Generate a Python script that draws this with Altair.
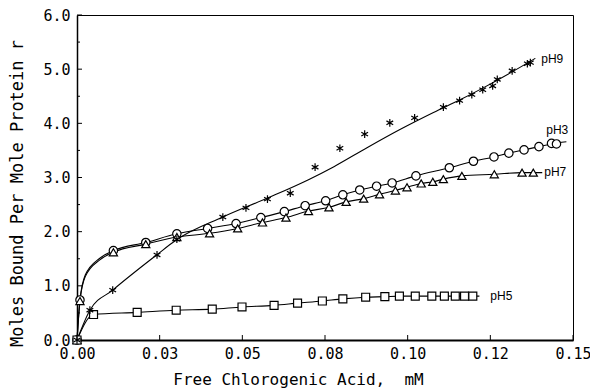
import altair as alt
import pandas as pd

# ---------------- data ----------------
ph3_x = [0, 0.0009, 0.0110, 0.0208, 0.0302, 0.0395, 0.0481, 0.0556, 0.0627, 0.0690,
         0.0752, 0.0804, 0.0855, 0.0906, 0.0953, 0.1025, 0.1126, 0.1199, 0.1261,
         0.1306, 0.1352, 0.1397, 0.1435, 0.1450]
ph3_y = [0, 0.74, 1.65, 1.80, 1.96, 2.06, 2.15, 2.26, 2.37, 2.48,
         2.57, 2.68, 2.77, 2.84, 2.90, 3.03, 3.18, 3.30, 3.38,
         3.45, 3.51, 3.57, 3.63, 3.62]

ph7_x = [0, 0.0009, 0.0110, 0.0208, 0.0302, 0.0401, 0.0486, 0.0561, 0.0632, 0.0700,
         0.0762, 0.0814, 0.0867, 0.0915, 0.0963, 0.0998, 0.1041, 0.1076, 0.1108,
         0.1164, 0.1262, 0.1346, 0.1380]
ph7_y = [0, 0.72, 1.62, 1.77, 1.90, 1.97, 2.06, 2.17, 2.26, 2.38,
         2.45, 2.55, 2.61, 2.69, 2.76, 2.82, 2.89, 2.92, 2.97,
         3.03, 3.06, 3.09, 3.09]

ph5_x = [0, 0.0050, 0.0182, 0.0300, 0.0409, 0.0499, 0.0596, 0.0667, 0.0742, 0.0804,
         0.0873, 0.0931, 0.0975, 0.1023, 0.1073, 0.1111, 0.1144, 0.1172, 0.1197]
ph5_y = [0, 0.47, 0.51, 0.55, 0.57, 0.61, 0.64, 0.68, 0.72, 0.76,
         0.79, 0.80, 0.81, 0.81, 0.81, 0.81, 0.81, 0.81, 0.81]

ph9_x = [0, 0.0039, 0.0108, 0.0242, 0.0302, 0.0441, 0.0511, 0.0576, 0.0645, 0.0720,
         0.0795, 0.0870, 0.0946, 0.1021, 0.1108, 0.1157, 0.1194, 0.1227, 0.1257,
         0.1271, 0.1316, 0.1362, 0.1371]
ph9_y = [0, 0.55, 0.92, 1.57, 1.86, 2.27, 2.44, 2.60, 2.71, 3.19,
         3.54, 3.80, 4.01, 4.10, 4.30, 4.42, 4.53, 4.62, 4.69,
         4.81, 4.97, 5.10, 5.12]

# fitted curves
fit3_x = [0, 0.0009, 0.0025, 0.0069, 0.0110, 0.0208, 0.0302, 0.0395, 0.0481, 0.0556,
          0.0627, 0.0690, 0.0752, 0.0804, 0.0855, 0.0906, 0.0953, 0.1025, 0.1126,
          0.1199, 0.1261, 0.1306, 0.1352, 0.1397, 0.1435, 0.1480]
fit3_y = [0, 0.74, 1.20, 1.51, 1.65, 1.80, 1.96, 2.06, 2.15, 2.26,
          2.37, 2.48, 2.57, 2.68, 2.77, 2.84, 2.90, 3.03, 3.18,
          3.30, 3.38, 3.45, 3.51, 3.57, 3.62, 3.66]
fit7_x = [0, 0.0009, 0.0025, 0.0069, 0.0110, 0.0208, 0.0302, 0.0401, 0.0486, 0.0561,
          0.0632, 0.0700, 0.0762, 0.0814, 0.0867, 0.0915, 0.0963, 0.0998, 0.1041,
          0.1076, 0.1108, 0.1164, 0.1262, 0.1346, 0.1407]
fit7_y = [0, 0.72, 1.17, 1.48, 1.62, 1.77, 1.90, 1.97, 2.06, 2.17,
          2.26, 2.38, 2.45, 2.55, 2.61, 2.69, 2.76, 2.82, 2.89,
          2.92, 2.97, 3.03, 3.06, 3.09, 3.09]
fit5_x = ph5_x + [0.1217]
fit5_y = ph5_y + [0.81]
fit9_x = [0, 0.0039, 0.0108, 0.0241, 0.0301, 0.0441, 0.0576, 0.0700, 0.0777, 0.0877,
          0.0978, 0.1078, 0.1157, 0.1227, 0.1316, 0.1386]
fit9_y = [0, 0.55, 0.92, 1.57, 1.85, 2.27, 2.62, 2.96, 3.20, 3.55,
          3.89, 4.20, 4.43, 4.65, 4.95, 5.20]

series_names = ["pH3", "pH7", "pH5", "pH9"]
label_x = [0.1419, 0.1413, 0.1250, 0.1404]
label_y = [3.87, 3.10, 0.81, 5.18]

x_tick_values = [0, 0.025, 0.05, 0.075, 0.1, 0.125, 0.15]
x_tick_labels = ["0.00", "0.03", "0.05", "0.08", "0.10", "0.12", "0.15"]
y_tick_values = [0, 1, 2, 3, 4, 5, 6]
y_minor_values = [0.5, 1.5, 2.5, 3.5, 4.5, 5.5]

# ---------------- tables ----------------
pts = []
for name, xs, ys in [("pH3", ph3_x, ph3_y), ("pH7", ph7_x, ph7_y),
                     ("pH5", ph5_x, ph5_y), ("pH9", ph9_x, ph9_y)]:
    for a, b in zip(xs, ys):
        pts.append({"series": name, "x": a, "y": b})
pts = pd.DataFrame(pts)

fits = []
for name, xs, ys in [("pH3", fit3_x, fit3_y), ("pH7", fit7_x, fit7_y),
                     ("pH5", fit5_x, fit5_y), ("pH9", fit9_x, fit9_y)]:
    for i, (a, b) in enumerate(zip(xs, ys)):
        fits.append({"series": name, "x": a, "y": b, "i": i})
fits = pd.DataFrame(fits)

labels = pd.DataFrame({"series": series_names, "x": label_x, "y": label_y})
xt = pd.DataFrame({"v": x_tick_values})
yt = pd.DataFrame({"v": y_tick_values})
ym = pd.DataFrame({"v": y_minor_values})

W, H = 496, 325
FONT = "DejaVu Sans Mono"

label_expr = "[" + ",".join("'%s'" % s for s in x_tick_labels) + "][round(datum.value*40)]"

xscale = alt.Scale(domain=[0, 0.15], nice=False, zero=False)
yscale = alt.Scale(domain=[0, 6], nice=False, zero=False)

xaxis = alt.Axis(values=x_tick_values, labelExpr=label_expr, title="Free Chlorogenic Acid,\u00a0 mM",
                 grid=False, ticks=False, tickSize=0, labelPadding=6, labelFontSize=15,
                 labelFlush=False, labelOverlap=False, labelBound=False,
                 labelFont=FONT, titleFont=FONT, titleFontSize=16, titleFontWeight="normal",
                 domainColor="black", domainWidth=2, labelColor="black", titleColor="black",
                 titleX=221, titlePadding=10)
yaxis = alt.Axis(values=y_tick_values, format=".1f", title="Moles Bound Per Mole Protein r",
                 grid=False, ticks=False, tickSize=0, labelPadding=7, labelFontSize=15,
                 labelFlush=False, labelOverlap=False,
                 labelFont=FONT, titleFont=FONT, titleFontSize=17, titleFontWeight="normal",
                 domainColor="black", domainWidth=1.5, labelColor="black", titleColor="black",
                 titleY=178, titlePadding=16)


def X(field="x"):
    return alt.X(f"{field}:Q", scale=xscale, axis=xaxis)


def Y(field="y"):
    return alt.Y(f"{field}:Q", scale=yscale, axis=yaxis)


lines = alt.Chart(fits).mark_line(interpolate="monotone", color="black", strokeWidth=1.1).encode(
    x=X(), y=Y(), detail="series:N", order="i:Q")

star_path = "M0,-1L0,1M-0.87,-0.5L0.87,0.5M-0.87,0.5L0.87,-0.5"
points = alt.Chart(pts).mark_point(filled=True, fill="white", stroke="black", strokeWidth=1.2,
                                   opacity=1).encode(
    x=X(), y=Y(),
    shape=alt.Shape("series:N", scale=alt.Scale(domain=series_names,
                                                 range=["circle", "triangle-up", "square", star_path]),
                    legend=None),
    size=alt.Size("series:N", scale=alt.Scale(domain=series_names, range=[70, 60, 45, 85]),
                  legend=None),
)

texts = alt.Chart(labels).mark_text(align="left", baseline="middle", font="Liberation Sans",
                                    fontSize=12, color="black").encode(
    x=X(), y=Y(), text="series:N")

xticks = alt.Chart(xt).mark_rule(color="black", strokeWidth=1).encode(
    x=X("v"), y=alt.value(H), y2=alt.value(H - 5))
yticks = alt.Chart(yt).mark_rule(color="black", strokeWidth=1).encode(
    y=Y("v"), x=alt.value(0), x2=alt.value(5))
yminor = alt.Chart(ym).mark_rule(color="black", strokeWidth=1).encode(
    y=Y("v"), x=alt.value(0), x2=alt.value(3))

chart = alt.layer(lines, points, texts, xticks, yticks, yminor).properties(
    width=W, height=H,
    padding={"left": 77, "top": 15, "right": 17, "bottom": 51},
    autosize=alt.AutoSizeParams(type="none"),
    background="white",
).configure_view(stroke="black", strokeWidth=1)

chart.save("out.html", embed_options={"renderer": "svg", "actions": False})
